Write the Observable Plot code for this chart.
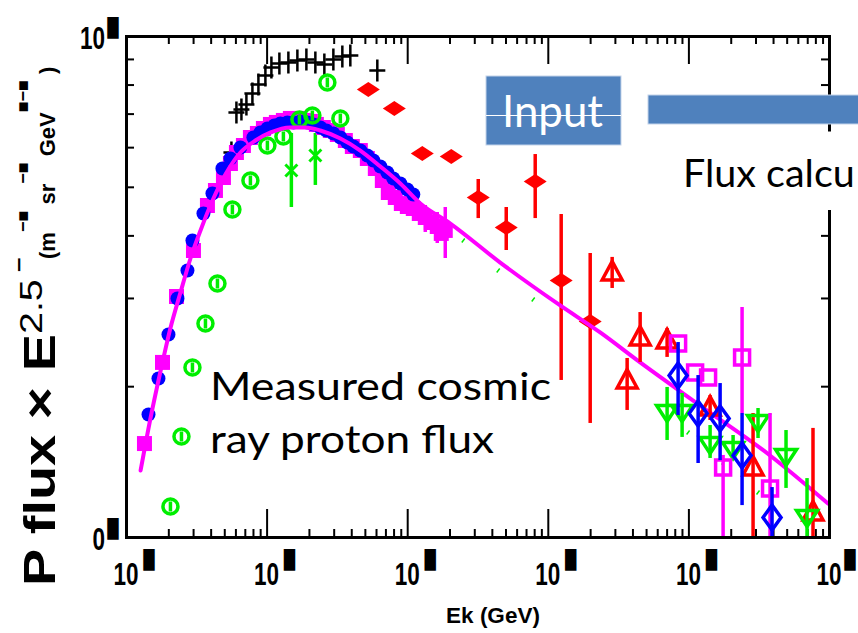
<!DOCTYPE html>
<html><head><meta charset="utf-8">
<script src="https://cdn.jsdelivr.net/npm/d3@7"></script>
<script src="https://cdn.jsdelivr.net/npm/@observablehq/plot@0.6"></script>
<style>html,body{margin:0;padding:0;background:#fff;overflow:hidden}#chart{width:858px;height:633px;position:relative;overflow:hidden}</style>
</head><body><div id="chart"></div>
<script>
// ---- model curve (magenta line)
const lineE = [1.26,1.48,1.75,2.05,2.42,2.85,3.36,4.09,5.05,6.46,8.26,10.6,14.6,18.7,23.9,33.2,46.0,63.9,88.6,123,201,455,1215,2338,4500,12010,37770,97570];
const lineF = [1361,1728,2154,2614,3083,3605,4101,4706,5303,5867,6200,6434,6583,6583,6493,6257,5921,5502,5089,4641,4233,3538,2905,2566,2236,1834,1458,1169];
// ---- blue filled circles
const blueE = [1.434,1.688,1.988,2.304,2.713,2.945,3.526,4.086,4.812,5.485,6.461,7.991,8.963,10.05,11.27,12.43,13.94,15.38,17.25,19.34,21.33,23.92,26.39,29.60,33.19,37.22,41.06,46.03,51.63,56.96,63.87,71.61,79.0,88.6,99.4,109.6];
const blueF = [1760,2077,2542,3000,3412,3915,4433,4859,5452,5708,6003,6286,6434,6553,6644,6706,6737,6737,6768,6737,6675,6583,6493,6404,6286,6143,6031,5921,5786,5655,5502,5352,5207,5089,4951,4837];
// ---- magenta filled squares
const magSqE = [1.342,1.803,2.267,2.994,3.764,4.292,4.892,5.485,6.051,6.786,7.608,8.533,9.413,10.56,11.64,13.06,14.64,16.42,18.11,20.31,22.41,25.13,28.18,31.60,36.02,40.40,46.03,51.63,58.85,66.0,72.8,81.6,90.1,99.4,109.6,120.9,133.4,147.2,162.3,173.3,185.0];
const magSqF = [1540,2236,3027,3740,4599,4928,5231,5578,5867,6059,6286,6404,6553,6675,6737,6799,6862,6862,6799,6768,6675,6583,6493,6374,6200,6031,5921,5708,5452,5159,4882,4771,4641,4578,4536,4433,4352,4253,4176,4045,4101];
const magSqErrE = [133.4,162.3,185.0];
const magSqErrLo = [4063,3862,3605];
const magSqErrHi = [4599,4454,4557];
// ---- green open circles
const greenCircE = [2.054,2.460,2.945,3.644,4.435,5.665,7.608,10.05,13.06,16.97,20.99,26.83,33.19];
const greenCircF = [1153,1591,2185,2674,3214,4515,5159,6059,6315,6830,6957,8093,6862];
// ---- black crosses
const crossE = [5.576,6.051,6.568,7.126,7.862,8.675,9.725,10.73,12.23,14.17,16.42,19.03,22.04,25.54,29.60,34.29,39.08,60.8];
const crossF = [5867,7053,7151,7318,7696,8019,8360,8672,8834,8875,8957,8998,8875,8793,8998,9124,9166,8553];
// ---- green x
const greenXE = [14.88,22.04];
const greenXF = [5401,5786];
const greenXLo = [4557,5043];
const greenXHi = [6404,6404];
// ---- red filled diamonds
const redDiaE = [52.48,80.3,127.0,204.1,317.5,502.1,807.1,1235,1986];
const redDiaF = [7840,7185,5840,5760,4771,4156,5135,3258,2699];
const redDiaLo = [null,null,null,null,4331,3740,4331,2058,1689];
const redDiaHi = [null,null,null,null,5183,4557,5813,4413,3689];
// ---- red open triangles (up)
const redTriE = [2846,4500,3637,6998,14150,28600,76320];
const redTriF = [3381,2507,2058,2473,1817,1380,1122];
const redTriLo = [3141,2236,1793,2288,1712,986,986];
const redTriHi = [3623,2812,2277,2614,1920,1768,1651];
// ---- green open triangles (down)
const greenTriE = [6998,8947,14150,20620,31030,49070,69210];
const greenTriF = [1768,1768,1526,1492,1689,1444,1091];
const greenTriLo = [1562,1584,1438,1424,1576,1253,1000];
const greenTriHi = [1993,1939,1673,1598,1809,1635,1311];
// ---- blue open diamonds
const blueDiaE = [8380,11630,16670,23890,39020];
const blueDiaF = [2105,1768,1728,1458,1096];
const blueDiaLo = [1752,1405,1424,1158,1000];
const blueDiaHi = [2450,2105,2029,1768,1258];
// ---- magenta open squares
const magOpenE = [8380,11070,13690,17510,23890,37770];
const magOpenF = [2439,2135,2086,1380,2288,1253];
const magOpenLo = [null,null,null,986,1768,986];
const magOpenHi = [null,null,null,1458,2878,1768];
// ---- small green dashes
const greenDashE = [248.5,440.5,781,9870,17510,31030];
const greenDashF = [3915,3412,2985,1620,1411,1230];
// ---- ticks & labels
const xMajorTicks = [1,10,100,1000,10000,100000];
const xTickLabels = ["10","10","10","10","10","10"];
const yMajorTicks = [1000,10000];
const yTickLabels = ["0","10"];
const minorMult = [2,3,4,5,6,7,8,9];
const xDecades = [1,10,100,1000,10000];
const yDecades = [1000];

const pts = (E,F,Lo,Hi) => E.map((e,i)=>({e, f:F[i], lo: Lo? Lo[i]:null, hi: Hi? Hi[i]:null}));
const errs = a => a.filter(d=>d.lo!=null);

const xMinor = xDecades.flatMap(d=>minorMult.map(m=>d*m));
const yMinor = yDecades.flatMap(d=>minorMult.map(m=>d*m));
const xInner = xMajorTicks.slice(1,-1);

const RED="#ff0000", BLUE="#0000ff", MAG="#ff00ff", GRN="#00ee00";

const circBar = {draw(c){const r=7.5; c.moveTo(r,0); c.arc(0,0,r,0,2*Math.PI); c.moveTo(0,-5); c.lineTo(0,5);}};
const plusTall = {draw(c){c.moveTo(-8,0); c.lineTo(8,0); c.moveTo(0,-11); c.lineTo(0,11);}};
const wideDia = {draw(c){c.moveTo(-11.5,0); c.lineTo(0,-7.5); c.lineTo(11.5,0); c.lineTo(0,7.5); c.closePath();}};
const triUp = {draw(c){c.moveTo(0,-11); c.lineTo(10,7.5); c.lineTo(-10,7.5); c.closePath();}};
const triDown = {draw(c){c.moveTo(0,8); c.lineTo(10.5,-8); c.lineTo(-10.5,-8); c.closePath();}};
const tallDia = {draw(c){c.moveTo(0,-12.5); c.lineTo(9,0); c.lineTo(0,12.5); c.lineTo(-9,0); c.closePath();}};
const openSq = {draw(c){c.rect(-7.5,-7.5,15,15);}};
const fillSq = {draw(c){c.rect(-7.5,-7.5,15,15);}};
const slash = {draw(c){c.moveTo(-1.5,2); c.lineTo(1.5,-2);}};
const timesSym = {draw(c){c.moveTo(-6,-6); c.lineTo(6,6); c.moveTo(-6,6); c.lineTo(6,-6);}};

const FH = 633-36-96, FW = 858-126-29;
const tickStyle = {stroke:"black", strokeWidth:2};

const errRule = (data, color) => Plot.ruleX(errs(data), {x:"e", y1:"lo", y2:"hi", stroke:color, strokeWidth:3.5, clip:true});

const plot = Plot.plot({
  width:858, height:633,
  marginLeft:126, marginRight:29, marginTop:36, marginBottom:96,
  x:{type:"log", domain:[1,1e5], axis:null},
  y:{type:"log", domain:[1e3,1e4], axis:null},
  style:{background:"white", overflow:"visible"},
  marks:[
    Plot.tickX(xMinor, {x:d=>d, insetTop:FH-8, ...tickStyle}),
    Plot.tickX(xMinor, {x:d=>d, insetBottom:FH-8, ...tickStyle}),
    Plot.tickX(xInner, {x:d=>d, insetTop:FH-28, ...tickStyle}),
    Plot.tickX(xInner, {x:d=>d, insetBottom:FH-28, ...tickStyle}),
    Plot.tickY(yMinor, {y:d=>d, insetRight:FW-8, ...tickStyle}),
    Plot.tickY(yMinor, {y:d=>d, insetLeft:FW-8, ...tickStyle}),
    Plot.dot(pts(greenDashE,greenDashF), {x:"e", y:"f", symbol:slash, fill:"none", stroke:GRN, strokeWidth:1.5}),
    errRule(pts(greenXE,greenXF,greenXLo,greenXHi), GRN),
    Plot.dot(pts(greenXE,greenXF), {x:"e", y:"f", symbol:timesSym, fill:"none", stroke:GRN, strokeWidth:3}),
    Plot.dot(pts(crossE,crossF), {x:"e", y:"f", symbol:plusTall, fill:"none", stroke:"black", strokeWidth:2.5}),
    Plot.dot(pts(magSqE,magSqF), {x:"e", y:"f", symbol:fillSq, fill:MAG, stroke:"none"}),
    errRule(pts(magSqErrE, magSqErrLo, magSqErrLo, magSqErrHi), MAG),
    Plot.dot(pts(blueE,blueF), {x:"e", y:"f", r:7, fill:BLUE, stroke:"none"}),
    Plot.dot(pts(greenCircE,greenCircF), {x:"e", y:"f", symbol:circBar, fill:"none", stroke:GRN, strokeWidth:3.5}),
    errRule(pts(redDiaE,redDiaF,redDiaLo,redDiaHi), RED),
    Plot.dot(pts(redDiaE,redDiaF), {x:"e", y:"f", symbol:wideDia, fill:RED, stroke:"none"}),
    Plot.line(pts(lineE,lineF), {x:"e", y:"f", stroke:MAG, strokeWidth:4, curve:"monotone-x"}),
    errRule(pts(redTriE,redTriF,redTriLo,redTriHi), RED),
    Plot.dot(pts(redTriE,redTriF), {x:"e", y:"f", symbol:triUp, fill:"none", stroke:RED, strokeWidth:3.5, clip:true}),
    errRule(pts(greenTriE,greenTriF,greenTriLo,greenTriHi), GRN),
    Plot.dot(pts(greenTriE,greenTriF), {x:"e", y:"f", symbol:triDown, fill:"none", stroke:GRN, strokeWidth:3.5, clip:true}),
    errRule(pts(magOpenE,magOpenF,magOpenLo,magOpenHi), MAG),
    Plot.dot(pts(magOpenE,magOpenF), {x:"e", y:"f", symbol:openSq, fill:"none", stroke:MAG, strokeWidth:3.5, clip:true}),
    errRule(pts(blueDiaE,blueDiaF,blueDiaLo,blueDiaHi), BLUE),
    Plot.dot(pts(blueDiaE,blueDiaF), {x:"e", y:"f", symbol:tallDia, fill:"none", stroke:BLUE, strokeWidth:3.5, clip:true}),
    Plot.frame({stroke:"black", strokeWidth:3})
  ]
});
document.getElementById("chart").appendChild(plot);
const svg = d3.select(plot);
const sx = plot.scale("x"), sy = plot.scale("y");

// tick labels (vertically stretched digits, as in the reference), placed with Plot's scales
const tl = svg.append("g").attr("text-anchor","start").attr("fill","black");
const digit = (g, x, y, t, anchor) => g.append("text").attr("transform",`translate(${x},${y}) scale(1,1.4)`)
  .attr("text-anchor",anchor).attr("font-family","Liberation Sans, Arial, sans-serif")
  .attr("font-weight","bold").attr("font-size",22.5).text(t);
const boxg = (g, x, y) => g.append("text").attr("transform",`translate(${x},${y}) scale(1,1.9)`)
  .attr("text-anchor","start").attr("font-family","DejaVu Sans, sans-serif").attr("font-size",15).text("■");
xMajorTicks.forEach((v,i)=>{
  const px = sx.apply(v);
  digit(tl, px, 585, xTickLabels[i], "middle");
  boxg(tl, Math.min(px+16, 843), 567);
});
yMajorTicks.forEach((v,i)=>{
  const py = sy.apply(v);
  digit(tl, 105, py+13, yTickLabels[i], "end");
  boxg(tl, 106, py-1);
});

// axis labels
svg.append("text").attr("x",493).attr("y",623).attr("text-anchor","middle")
  .attr("font-family","Liberation Sans, Arial, sans-serif").attr("font-weight","bold").attr("font-size",22.5)
  .text("Ek (GeV)");

const yl = svg.append("text").attr("transform","translate(55,586) rotate(-90) scale(1.27,1)")
  .attr("text-anchor","start")
  .attr("font-family","Liberation Sans, Arial, sans-serif").attr("fill","black");
yl.append("tspan").attr("font-size",44).attr("font-weight","bold").text("P flux × E");
yl.append("tspan").attr("font-size",31).attr("dy",-13).text("2.5");
yl.append("tspan").attr("font-size",20).attr("font-weight","bold").attr("dy",-16).text(" −");

const yu = svg.append("text").attr("transform","translate(55,259) rotate(-90)")
  .attr("text-anchor","start").attr("font-weight","bold")
  .attr("font-family","Liberation Sans, Arial, sans-serif").attr("fill","black");
yu.append("tspan").attr("font-size",22).text("(m");
yu.append("tspan").attr("font-size",18).attr("dy",-26).text("−■");
yu.append("tspan").attr("font-size",22).attr("dy",26).text(" sr");
yu.append("tspan").attr("font-size",18).attr("dy",-26).text("−■");
yu.append("tspan").attr("font-size",22).attr("dy",26).text(" GeV");
yu.append("tspan").attr("font-size",18).attr("dy",-26).text("■−■");
yu.append("tspan").attr("font-size",22).attr("dy",26).text(" )");

// slide annotations
const ann = svg.append("g").attr("font-family","Lato, 'Open Sans', sans-serif").attr("text-anchor","start");
ann.append("text").attr("x",210).attr("y",400).attr("font-size",39.5).attr("textLength",341).attr("lengthAdjust","spacingAndGlyphs").text("Measured cosmic");
ann.append("text").attr("x",210).attr("y",453).attr("font-size",39.5).attr("textLength",284).attr("lengthAdjust","spacingAndGlyphs").text("ray proton flux");
ann.append("rect").attr("x",486).attr("y",76).attr("width",135).attr("height",69).attr("fill","#4f81bd").attr("stroke","#c3d3ea").attr("stroke-width",1);
ann.append("text").attr("x",502).attr("y",126.5).attr("font-size",44).attr("fill","white").attr("textLength",101).attr("lengthAdjust","spacingAndGlyphs").text("Input");
ann.append("line").attr("x1",486).attr("x2",621).attr("y1",115.5).attr("y2",115.5).attr("stroke","white").attr("stroke-width",1);
ann.append("rect").attr("x",648).attr("y",95).attr("width",215).attr("height",29).attr("fill","#4f81bd").attr("stroke","#c3d3ea").attr("stroke-width",1);
ann.append("rect").attr("x",660).attr("y",131.5).attr("width",200).attr("height",78.5).attr("fill","white");
ann.append("text").attr("x",683).attr("y",187).attr("font-size",39.5).text("Flux calcu");
</script></body></html>
